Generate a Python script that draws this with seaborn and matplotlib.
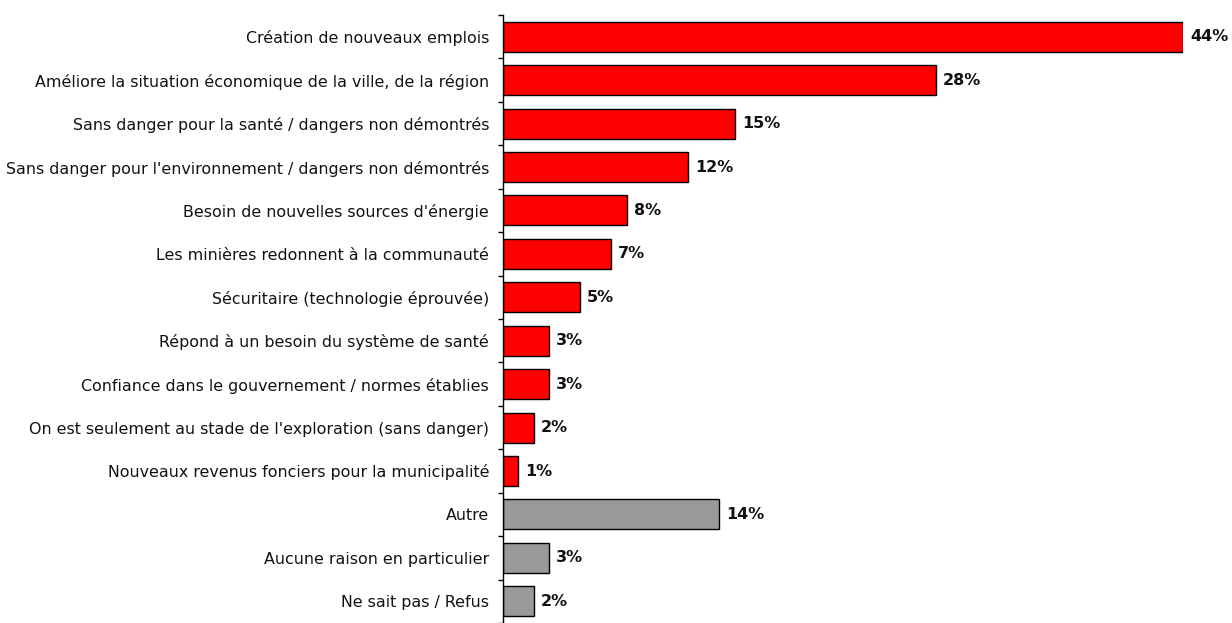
import numpy as np
import pandas as pd
import matplotlib
import matplotlib.pyplot as plt
import seaborn as sns

matplotlib.use('Agg')

categories = [
    "Création de nouveaux emplois",
    "Améliore la situation économique de la ville, de la région",
    "Sans danger pour la santé / dangers non démontrés",
    "Sans danger pour l'environnement / dangers non démontrés",
    "Besoin de nouvelles sources d'énergie",
    "Les minières redonnent à la communauté",
    "Sécuritaire (technologie éprouvée)",
    "Répond à un besoin du système de santé",
    "Confiance dans le gouvernement / normes établies",
    "On est seulement au stade de l'exploration (sans danger)",
    "Nouveaux revenus fonciers pour la municipalité",
    "Autre",
    "Aucune raison en particulier",
    "Ne sait pas / Refus",
]
values = [44, 28, 15, 12, 8, 7, 5, 3, 3, 2, 1, 14, 3, 2]
groups = ["raison"] * 11 + ["autre"] * 3

df = pd.DataFrame({"cat": categories, "val": values, "grp": groups})

sns.set_style("white")
plt.rcParams['font.family'] = ['DejaVu Sans']

fig = plt.figure(figsize=(12.32, 6.23), dpi=100)
ax = fig.add_axes([503 / 1232, 0, 680 / 1232, 1 - 15 / 623])

sns.barplot(data=df, x="val", y="cat", hue="grp",
            palette={"raison": "#ff0000", "autre": "#999999"},
            dodge=False, legend=False, width=0.69,
            edgecolor="black", linewidth=1.0, saturation=1, ax=ax)

ax.set_xlim(0, 44)
ax.set_ylim(len(categories) - 0.5, -0.5)
ax.set_xlabel("")
ax.set_ylabel("")
ax.set_xticks([])

for s in ["top", "right", "bottom"]:
    ax.spines[s].set_visible(False)
ax.spines["left"].set_color("black")
ax.spines["left"].set_linewidth(1.0)

# tick marks on the category boundaries, labels in between
ax.set_yticks(np.arange(len(categories) + 1) - 0.5, minor=True)
ax.tick_params(axis="y", which="minor", length=3.5, width=1, color="black", direction="out", left=True)
ax.tick_params(axis="y", which="major", length=0, pad=10, labelsize=11.4, labelcolor="#111111")

for i, v in enumerate(values):
    ax.text(v + 0.45, i, f"{v}%", va="center", ha="left", fontsize=11.5,
            fontweight="bold", color="#111111", clip_on=False)

fig.savefig("out.png", dpi=100)
